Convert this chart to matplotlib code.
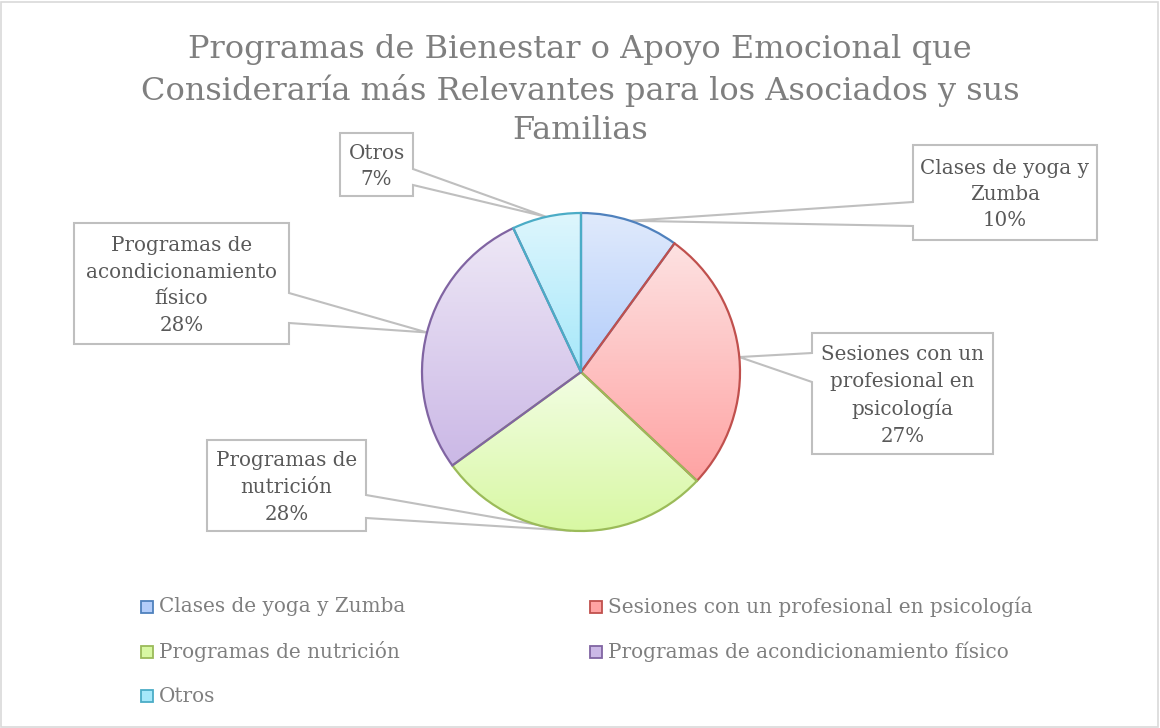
import numpy as np
import matplotlib
matplotlib.use("Agg")
import matplotlib.pyplot as plt
from matplotlib.patches import Polygon, Rectangle
from matplotlib.colors import LinearSegmentedColormap

# ---- data ----
title = "Programas de Bienestar o Apoyo Emocional que\nConsideraría más Relevantes para los Asociados y sus\nFamilias"
categories = ["Clases de yoga y Zumba",
              "Sesiones con un profesional en psicología",
              "Programas de nutrición",
              "Programas de acondicionamiento físico",
              "Otros"]
values = [10, 27, 28, 28, 7]
box_labels = ["Clases de yoga y\nZumba",
              "Sesiones con un\nprofesional en\npsicología",
              "Programas de\nnutrición",
              "Programas de\nacondicionamiento\nfísico",
              "Otros"]

# ---- style ----
edge_colors = ["#4f81bd", "#c0504d", "#9bbb59", "#8064a2", "#4bacc6"]
grad_top = ["#e0eafc", "#fde2e2", "#f2fde3", "#eee8f6", "#def6fd"]
grad_bot = ["#b3cdfa", "#ffa3a3", "#d8f8a3", "#cbb8e6", "#a6e8fa"]
FONT = "DejaVu Serif"
W, H = 1160, 728

fig = plt.figure(figsize=(W / 100, H / 100), dpi=100)
ax = fig.add_axes([0, 0, 1, 1])

def Y(y):  # pixel-from-top to data y
    return H - y

cx, cy, r = 581, Y(372), 159
wedges, _ = ax.pie(values, startangle=90, counterclock=False,
                   center=(cx, cy), radius=r,
                   wedgeprops=dict(linewidth=1.6, zorder=3))
ax.set_xlim(0, W)
ax.set_ylim(0, H)
ax.set_aspect("auto")
ax.axis("off")

for w, ec, c0, c1 in zip(wedges, edge_colors, grad_top, grad_bot):
    w.set_facecolor("none")
    w.set_edgecolor(ec)
    bb = w.get_path().get_extents(w.get_patch_transform())
    cmap = LinearSegmentedColormap.from_list("g", [c1, c0])
    grad = np.linspace(0, 1, 256).reshape(-1, 1)
    im = ax.imshow(grad, cmap=cmap, origin="lower", aspect="auto",
                   extent=(bb.x0, bb.x1, bb.y0, bb.y1), zorder=2,
                   interpolation="bilinear")
    im.set_clip_path(w)

# ---- callouts (box in pixel coords: left, top, right, bottom; pointer side; pointer ys) ----
boxes = [
    (913, 145, 1097, 240, "left", 202, 226),
    (812, 333, 993, 454, "left", 353, 382),
    (207, 440, 366, 531, "right", 495, 518),
    (74, 223, 289, 344, "right", 293, 323),
    (340, 133, 413, 196, "right", 169, 185),
]
cum = np.cumsum([0] + values)
tot = float(sum(values))
for i, (L, T, R, B, side, p1, p2) in enumerate(boxes):
    mid = 90 - 360 * (cum[i] + values[i] / 2) / tot
    tx = cx + r * np.cos(np.radians(mid))
    ty = cy + r * np.sin(np.radians(mid))
    if side == "left":
        verts = [(L, Y(T)), (R, Y(T)), (R, Y(B)), (L, Y(B)), (L, Y(p2)),
                 (tx, ty), (L, Y(p1))]
    else:
        verts = [(L, Y(T)), (R, Y(T)), (R, Y(p1)), (tx, ty), (R, Y(p2)),
                 (R, Y(B)), (L, Y(B))]
    ax.add_patch(Polygon(verts, closed=True, facecolor="white",
                         edgecolor="#bfbfbf", linewidth=1.5, zorder=1))
    ax.text((L + R) / 2, Y((T + B) / 2 + 2), f"{box_labels[i]}\n{values[i]}%",
            ha="center", va="center", fontsize=14.3, family=FONT,
            color="#595959", linespacing=1.5, zorder=4)

# ---- title ----
fig.text(580 / W, 1 - 90 / H, title, ha="center", va="center",
         fontsize=23, family=FONT, color="#7f7f7f", linespacing=1.35)

# ---- legend (row-wise, 2 columns) ----
col_x = [141, 590]
row_y = [607, 652, 696]
for i, cat in enumerate(categories):
    x = col_x[i % 2]
    y = row_y[i // 2]
    ax.add_patch(Rectangle((x, Y(y) - 6), 12, 12, facecolor=grad_bot[i],
                           edgecolor=edge_colors[i], linewidth=1.3, zorder=3))
    ax.text(x + 18, Y(y), cat, ha="left", va="center", fontsize=14.4,
            family=FONT, color="#7f7f7f")

# ---- outer frame ----
ax.add_patch(Rectangle((1, 1), W - 3, H - 3, facecolor="none",
                       edgecolor="#d9d9d9", linewidth=1.2, zorder=0))

fig.savefig("out.png", dpi=100)
